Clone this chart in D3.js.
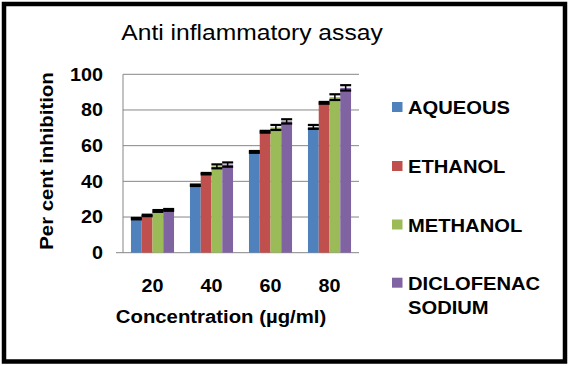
<!DOCTYPE html>
<html><head><meta charset="utf-8">
<script src="https://cdn.jsdelivr.net/npm/d3@7"></script>
<style>body{margin:0;background:#fff}svg{display:block}text{font-family:"Liberation Sans",Arial,sans-serif}</style>
</head><body>
<svg id="c" width="569" height="366"></svg>
<script>
const categories = ["20", "40", "60", "80"];
const seriesNames = ["AQUEOUS", "ETHANOL", "METHANOL", "DICLOFENAC SODIUM"];
const aqueous = [19.1, 37.8, 56.5, 70.5];
const ethanol = [20.9, 44.3, 67.8, 84.0];
const methanol = [23.4, 48.4, 70.2, 87.2];
const diclofenac = [24.0, 49.4, 73.6, 92.4];
const aqueousErr = [0.4, 0.4, 0.5, 1.1];
const ethanolErr = [0.4, 0.4, 0.5, 0.5];
const methanolErr = [0.5, 1.1, 1.4, 1.6];
const diclofenacErr = [0.5, 1.2, 1.2, 1.5];
const yTicks = [0, 20, 40, 60, 80, 100];
const colors = ["#4F81BD", "#C0504D", "#9BBB59", "#8064A2"];

const values = [aqueous, ethanol, methanol, diclofenac];
const errs = [aqueousErr, ethanolErr, methanolErr, diclofenacErr];
const svg = d3.select("#c");
const SX = 1.13;

svg.append("rect").attr("x", 4).attr("y", 4).attr("width", 561).attr("height", 357.5)
  .attr("fill", "#fff").attr("stroke", "#000").attr("stroke-width", 4.5);

const pLeft = 123, pRight = 359, pTop = 74.3, pBottom = 252.7;
const x = d3.scaleBand().domain(categories).range([pLeft, pRight]).paddingInner(0.27).paddingOuter(0.135);
const xs = d3.scaleBand().domain(d3.range(4)).range([0, x.bandwidth()]);
const y = d3.scaleLinear().domain([0, 100]).range([pBottom, pTop]);

// gridlines
svg.append("g").selectAll("line").data(yTicks.filter(d => d > 0)).join("line")
  .attr("x1", pLeft).attr("x2", pRight).attr("y1", d => y(d)).attr("y2", d => y(d))
  .attr("stroke", "#868686").attr("stroke-width", 1);
// axes lines
svg.append("line").attr("x1", pLeft).attr("x2", pLeft).attr("y1", y(100)).attr("y2", y(0))
  .attr("stroke", "#868686").attr("stroke-width", 1);
svg.append("line").attr("x1", pLeft - 7).attr("x2", pRight).attr("y1", y(0)).attr("y2", y(0))
  .attr("stroke", "#868686").attr("stroke-width", 1);

// y tick labels
svg.append("g").selectAll("text").data(yTicks).join("text")
  .attr("transform", d => `translate(103,${y(d) + 6.3}) scale(${SX},1)`)
  .attr("text-anchor", "end").attr("font-size", "17.5px").attr("font-weight", "bold")
  .text(d => d);

// x tick labels
svg.append("g").selectAll("text").data(categories).join("text")
  .attr("transform", d => `translate(${x(d) + x.bandwidth() / 2},291.7) scale(${SX},1)`)
  .attr("text-anchor", "middle").attr("font-size", "17.5px").attr("font-weight", "bold")
  .text(d => d);

// bars
values.forEach((vals, s) => {
  const g = svg.append("g");
  g.selectAll("rect").data(categories).join("rect")
    .attr("x", (c) => x(c) + xs(s)).attr("width", xs.bandwidth())
    .attr("y", (c, i) => y(vals[i])).attr("height", (c, i) => y(0) - y(vals[i]))
    .attr("fill", colors[s]);
});
// error bars
values.forEach((vals, s) => {
  const g = svg.append("g");
  categories.forEach((c, i) => {
    const cx = x(c) + xs(s) + xs.bandwidth() / 2;
    const hi = y(vals[i] + errs[s][i]), lo = y(vals[i] - errs[s][i]);
    g.append("line").attr("x1", cx).attr("x2", cx).attr("y1", hi).attr("y2", lo)
      .attr("stroke", "#000").attr("stroke-width", 1.5);
    [hi, lo].forEach(yy => g.append("line").attr("x1", cx - 5.5).attr("x2", cx + 5.5)
      .attr("y1", yy).attr("y2", yy).attr("stroke", "#000").attr("stroke-width", 2.2));
  });
});

// title
svg.append("text").attr("transform", `translate(252,39.5) scale(1.12,1)`)
  .attr("text-anchor", "middle").attr("font-size", "22px").text("Anti inflammatory assay");
// x axis title
svg.append("text").attr("transform", `translate(221,322.5) scale(${SX},1)`)
  .attr("text-anchor", "middle").attr("font-size", "18px").attr("font-weight", "bold")
  .text("Concentration (µg/ml)");
// y axis title
svg.append("text").attr("transform", `translate(53,161) rotate(-90) scale(1.1,1)`)
  .attr("text-anchor", "middle").attr("font-size", "18.5px").attr("font-weight", "bold")
  .text("Per cent inhibition");

// legend
const legY = [107, 166, 224.5, 282.7];
seriesNames.forEach((name, s) => {
  svg.append("rect").attr("x", 392).attr("y", legY[s] - 5).attr("width", 10.5).attr("height", 10)
    .attr("fill", colors[s]);
  const parts = name === "DICLOFENAC SODIUM" ? ["DICLOFENAC", "SODIUM"] : [name];
  parts.forEach((p, k) => {
    svg.append("text").attr("transform", `translate(408,${legY[s] + 7 + k * 24.5}) scale(1.12,1)`)
      .attr("font-size", "18px").attr("font-weight", "bold").text(p);
  });
});
</script>
</body></html>
